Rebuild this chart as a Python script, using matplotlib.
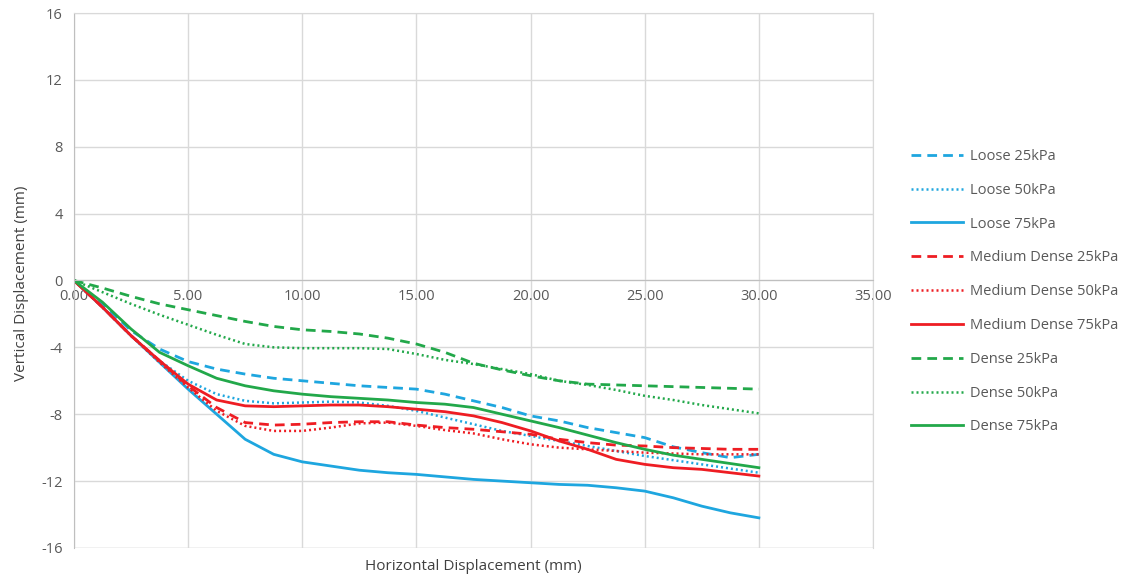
import matplotlib.pyplot as plt
from matplotlib.ticker import FormatStrFormatter

plt.rcParams['font.family'] = ['Open Sans', 'DejaVu Sans']
plt.rcParams['axes.unicode_minus'] = False

# horizontal displacement (mm) at which each curve was read
h_disp = [0, 1.25, 2.5, 3.75, 5, 6.25, 7.5, 8.75, 10, 11.25, 12.5, 13.75, 15,
          16.25, 17.5, 18.75, 20, 21.25, 22.5, 23.75, 25, 26.25, 27.5, 28.75, 30]

# vertical displacement (mm)
loose_25 = [0, -1.4, -3.0, -4.1, -4.85, -5.3, -5.6, -5.85, -6.0, -6.15, -6.3, -6.4, -6.5,
            -6.8, -7.2, -7.6, -8.1, -8.4, -8.8, -9.1, -9.4, -9.95, -10.3, -10.6, -10.4]
loose_50 = [0, -1.6, -3.3, -4.8, -6.0, -6.8, -7.2, -7.35, -7.3, -7.25, -7.3, -7.5, -7.8,
            -8.2, -8.6, -9.0, -9.3, -9.6, -9.9, -10.2, -10.5, -10.75, -11.0, -11.25, -11.5]
loose_75 = [0, -1.6, -3.3, -4.9, -6.5, -8.0, -9.5, -10.4, -10.85, -11.1, -11.35, -11.5, -11.6,
            -11.75, -11.9, -12.0, -12.1, -12.2, -12.25, -12.4, -12.6, -13.0, -13.5, -13.9, -14.2]

med_25 = [0, -1.6, -3.3, -4.8, -6.3, -7.6, -8.5, -8.65, -8.6, -8.5, -8.45, -8.45, -8.65,
          -8.8, -8.9, -9.05, -9.2, -9.5, -9.7, -9.85, -9.9, -10.0, -10.05, -10.1, -10.1]
med_50 = [0, -1.6, -3.3, -4.9, -6.4, -7.8, -8.7, -9.0, -9.0, -8.8, -8.55, -8.5, -8.7,
          -8.95, -9.15, -9.5, -9.8, -10.0, -10.1, -10.2, -10.3, -10.35, -10.4, -10.4, -10.4]
med_75 = [0, -1.6, -3.3, -4.8, -6.2, -7.15, -7.5, -7.55, -7.5, -7.45, -7.45, -7.55, -7.7,
          -7.85, -8.1, -8.5, -9.0, -9.6, -10.1, -10.7, -11.0, -11.2, -11.3, -11.5, -11.7]

dense_25 = [0, -0.45, -0.95, -1.4, -1.75, -2.1, -2.45, -2.75, -2.95, -3.05, -3.2, -3.45, -3.8,
            -4.3, -4.95, -5.35, -5.7, -6.0, -6.2, -6.25, -6.3, -6.35, -6.4, -6.45, -6.5]
dense_50 = [0, -0.7, -1.4, -2.05, -2.65, -3.25, -3.8, -4.0, -4.05, -4.05, -4.05, -4.1, -4.4,
            -4.75, -5.0, -5.3, -5.6, -6.0, -6.25, -6.55, -6.9, -7.15, -7.45, -7.7, -7.95]
dense_75 = [0, -1.3, -2.9, -4.3, -5.1, -5.85, -6.3, -6.6, -6.8, -6.95, -7.05, -7.15, -7.3,
            -7.4, -7.6, -8.0, -8.4, -8.8, -9.25, -9.7, -10.1, -10.45, -10.7, -10.95, -11.2]

blue = '#1EA6DF'
red = '#EE1D23'
green = '#22A84A'

series = [
    ('Loose 25kPa', loose_25, blue, 'dash'),
    ('Loose 50kPa', loose_50, blue, 'dot'),
    ('Loose 75kPa', loose_75, blue, 'solid'),
    ('Medium Dense 25kPa', med_25, red, 'dash'),
    ('Medium Dense 50kPa', med_50, red, 'dot'),
    ('Medium Dense 75kPa', med_75, red, 'solid'),
    ('Dense 25kPa', dense_25, green, 'dash'),
    ('Dense 50kPa', dense_50, green, 'dot'),
    ('Dense 75kPa', dense_75, green, 'solid'),
]

fig = plt.figure(figsize=(11.36, 5.78), dpi=100)
ax = fig.add_axes([0.0651, 0.052, 0.7034, 0.9255])

for label, vals, col, style in series:
    if style == 'dash':
        ax.plot(h_disp, vals, color=col, lw=2.0, dashes=(3.5, 2.2), label=label)
    elif style == 'dot':
        ax.plot(h_disp, vals, color=col, lw=1.8, dashes=(0.8, 1.2), label=label)
    else:
        ax.plot(h_disp, vals, color=col, lw=2.0, label=label)

ax.set_xlim(0, 35)
ax.set_ylim(-16, 16)
ax.set_xticks(range(0, 36, 5))
ax.set_yticks(range(-16, 17, 4))
ax.xaxis.set_major_formatter(FormatStrFormatter('%.2f'))
ax.grid(True, color='#D9D9D9', lw=1.0)
ax.set_axisbelow(True)

for side in ['top', 'right']:
    ax.spines[side].set_color('#D9D9D9')
ax.spines['left'].set_color('#BFBFBF')
ax.spines['bottom'].set_position(('data', 0))
ax.spines['bottom'].set_color('#BFBFBF')
ax.axhline(-16, color='#D9D9D9', lw=1.0)

ax.tick_params(length=0, labelsize=10.5, labelcolor='#595959')
ax.tick_params(axis='x', pad=6)
ax.tick_params(axis='y', pad=8)

# axis titles
fig.text(0.4168, 1 - 566 / 578, 'Horizontal Displacement (mm)', fontsize=11,
         color='#404040', ha='center', va='center')
fig.text(22 / 1136, 1 - 283 / 578, 'Vertical Displacement (mm)', fontsize=11,
         color='#404040', ha='center', va='center', rotation=90)

leg = fig.legend(loc='upper left', bbox_to_anchor=(0.79, 0.765), frameon=False,
                 fontsize=10.5, labelcolor='#595959', handlelength=3.6,
                 handletextpad=0.5, labelspacing=1.29)

fig.savefig('out.png', dpi=100)
